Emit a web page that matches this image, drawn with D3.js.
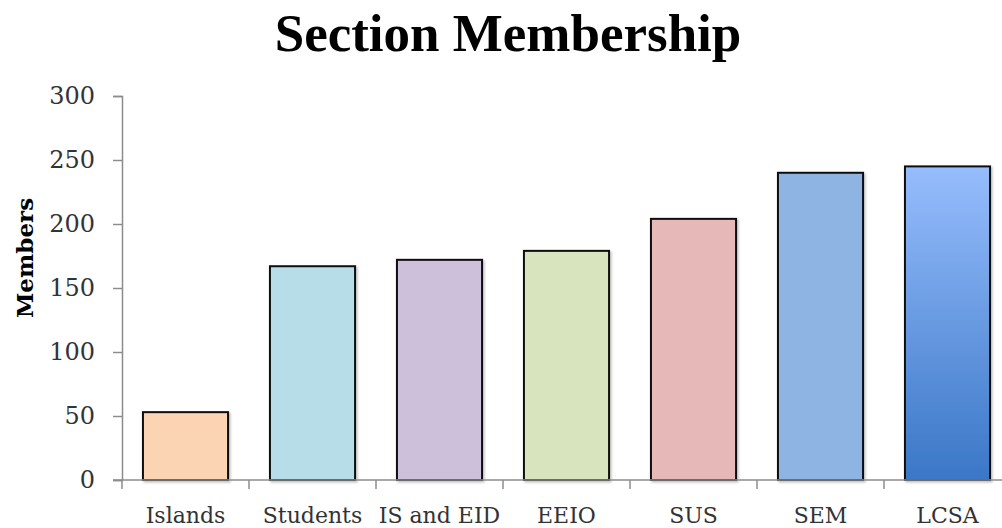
<!DOCTYPE html>
<meta charset="utf-8">
<script src="https://d3js.org/d3.v7.min.js"></script>
<style>
  body { margin: 0; background: #fff; }
  text { font-family: "DejaVu Serif", "Liberation Serif", serif; }
</style>
<body>
<div id="chart"></div>
<script>
// data
var sections = ["Islands", "Students", "IS and EID", "EEIO", "SUS", "SEM", "LCSA"];
var members = [53, 167, 172, 179, 204, 240, 245];
var fills = ["#fbd4b4", "#b7dde8", "#ccc0da", "#d7e4bd", "#e6b9b8", "#8eb4e3", "url(#lcsaGrad)"];
var yTicks = [0, 50, 100, 150, 200, 250, 300];

var W = 1002, H = 528;
var svg = d3.select("#chart").append("svg")
  .attr("width", W).attr("height", H);

var defs = svg.append("defs");
// gradient for the last bar
var grad = defs.append("linearGradient")
  .attr("id", "lcsaGrad").attr("x1", 0).attr("y1", 0).attr("x2", 0).attr("y2", 1);
grad.append("stop").attr("offset", "0%").attr("stop-color", "#96bdfd");
grad.append("stop").attr("offset", "100%").attr("stop-color", "#3a77c6");
// soft shadow on bars
var shadow = defs.append("filter").attr("id", "shadow")
  .attr("x", "-10%").attr("y", "-10%").attr("width", "130%").attr("height", "130%");
shadow.append("feDropShadow")
  .attr("dx", 1.5).attr("dy", 1.5).attr("stdDeviation", 1.2)
  .attr("flood-color", "#000").attr("flood-opacity", 0.25);

var x = d3.scaleBand()
  .domain(sections)
  .range([122, 1011])
  .paddingInner(0.33)
  .paddingOuter(0.165);

var y = d3.scaleLinear()
  .domain([0, 300])
  .range([480, 96]);

// title
svg.append("text")
  .attr("x", 508).attr("y", 51)
  .attr("text-anchor", "middle")
  .style("font-family", "'Liberation Serif', serif")
  .style("font-size", "53px").style("font-weight", "bold")
  .text("Section Membership");

// y label
svg.append("text")
  .attr("transform", "translate(33,258) rotate(-90)")
  .attr("text-anchor", "middle")
  .style("font-size", "23px").style("font-weight", "bold")
  .text("Members");

// bars
svg.selectAll("rect.bar")
  .data(sections)
  .enter()
  .append("rect")
  .attr("class", "bar")
  .attr("x", function(d) { return x(d); })
  .attr("y", function(d, i) { return y(members[i]); })
  .attr("width", x.bandwidth())
  .attr("height", function(d, i) { return y(0) - y(members[i]); })
  .attr("fill", function(d, i) { return fills[i]; })
  .attr("stroke", "#111")
  .attr("stroke-width", 2)
  .attr("filter", "url(#shadow)");

// y axis
var yAxis = svg.append("g")
  .attr("transform", "translate(122,0)")
  .call(d3.axisLeft(y).tickValues(yTicks).tickSize(9).tickPadding(18));
yAxis.selectAll("path, line").attr("stroke", "#8c8c8c").attr("stroke-width", 1.5);
yAxis.selectAll("text").style("font-size", "24px").attr("fill", "#333")
  .style("font-family", "'DejaVu Serif', serif");

// x axis with ticks between categories
var xAxis = svg.append("g").attr("transform", "translate(0,480)");
xAxis.append("line")
  .attr("x1", 113).attr("x2", W)
  .attr("stroke", "#8c8c8c").attr("stroke-width", 1.5);
xAxis.selectAll("line.tick")
  .data(sections)
  .enter()
  .append("line")
  .attr("class", "tick")
  .attr("x1", function(d) { return x(d) - x.step() * x.paddingInner() / 2; })
  .attr("x2", function(d) { return x(d) - x.step() * x.paddingInner() / 2; })
  .attr("y1", 0).attr("y2", 9)
  .attr("stroke", "#8c8c8c").attr("stroke-width", 1.5);
xAxis.selectAll("text")
  .data(sections)
  .enter()
  .append("text")
  .attr("x", function(d) { return x(d) + x.bandwidth() / 2; })
  .attr("y", 43)
  .attr("text-anchor", "middle")
  .attr("fill", "#333")
  .style("font-size", "22px")
  .text(function(d) { return d; });
</script>
</body>
